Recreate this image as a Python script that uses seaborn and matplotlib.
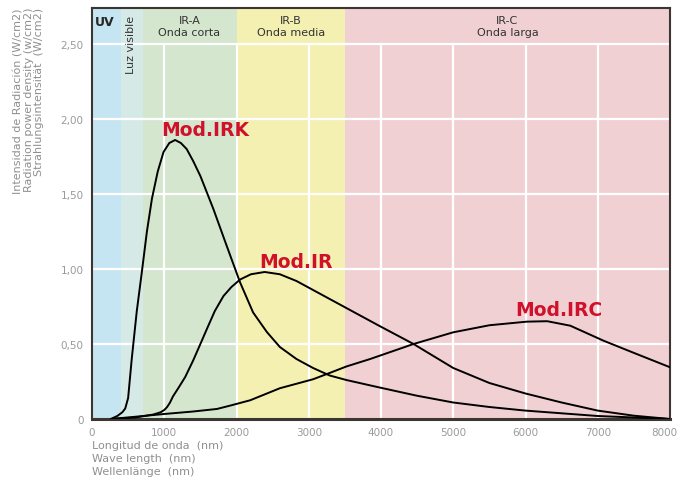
import numpy as np
import pandas as pd
import seaborn as sns
import matplotlib
matplotlib.use('Agg')
import matplotlib.pyplot as plt
from matplotlib.transforms import offset_copy

# Emission curves (wavelength nm, W/cm2)
irk_nm = [260, 350, 420, 460, 500, 550, 620, 690, 760, 830, 910, 990, 1070, 1150, 1230, 1310, 1400, 1500,
          1680, 1860, 2050, 2230, 2420, 2600, 2830, 3060, 3290, 3520, 3980, 4500, 5000, 5500, 6000, 7000, 8000]
irk_w = [0, 0.02, 0.045, 0.07, 0.14, 0.40, 0.72, 0.98, 1.25, 1.47, 1.65, 1.78, 1.84, 1.86, 1.84, 1.80, 1.72, 1.62,
         1.40, 1.16, 0.91, 0.71, 0.58, 0.48, 0.40, 0.34, 0.29, 0.26, 0.21, 0.155, 0.11, 0.08, 0.056, 0.02, 0]

ir_nm = [260, 600, 850, 950, 1000, 1040, 1080, 1120, 1200, 1290, 1400, 1500, 1590, 1700, 1820, 1930, 2050,
         2200, 2390, 2600, 2830, 3060, 3290, 3520, 3980, 4450, 5000, 5500, 6000, 6500, 7000, 7500, 8000]
ir_w = [0, 0.01, 0.03, 0.045, 0.06, 0.08, 0.11, 0.15, 0.21, 0.28, 0.39, 0.50, 0.60, 0.72, 0.82, 0.88, 0.93,
        0.965, 0.98, 0.965, 0.92, 0.86, 0.80, 0.74, 0.62, 0.50, 0.34, 0.24, 0.17, 0.11, 0.056, 0.022, 0]

irc_nm = [260, 600, 990, 1400, 1730, 1910, 2190, 2600, 3060, 3290, 3520, 3850, 4450, 5000, 5500,
          6020, 6300, 6620, 7080, 7540, 8000]
irc_w = [0, 0.015, 0.033, 0.05, 0.067, 0.089, 0.125, 0.205, 0.265, 0.307, 0.35, 0.40, 0.50, 0.578, 0.625,
         0.649, 0.652, 0.622, 0.522, 0.433, 0.345]

models = ['Mod.IRK', 'Mod.IR', 'Mod.IRC']

# Spectral bands
band_edges = [0, 400, 700, 2000, 3500, 8000]
band_colors = ['#c6e5f2', '#d5eae7', '#d4e6ce', '#f4f0b1', '#f1d0d3']

x_ticks = [0, 1000, 2000, 3000, 4000, 5000, 6000, 7000, 8000]
y_ticks = [0, 0.5, 1.0, 1.5, 2.0, 2.5]
y_tick_labels = ['0', '0,50', '1,00', '1,50', '2,00', '2,50']

df = pd.concat([
    pd.DataFrame({'nm': irk_nm, 'w': irk_w, 'model': models[0]}),
    pd.DataFrame({'nm': ir_nm, 'w': ir_w, 'model': models[1]}),
    pd.DataFrame({'nm': irc_nm, 'w': irc_w, 'model': models[2]}),
])

sns.set_style('white')
plt.rcParams['font.family'] = ['DejaVu Sans']

fig = plt.figure(figsize=(6.8, 4.81), dpi=100)
ax = fig.add_axes([92 / 680, 1 - 420 / 481, 578 / 680, 411 / 481])

for i in range(len(band_colors)):
    ax.axvspan(band_edges[i], band_edges[i + 1], color=band_colors[i], lw=0, zorder=0)

# white grid, verticals stop at the header band
ax.hlines(y_ticks[1:], 0, 8000, color='white', lw=1.6, zorder=1)
ax.vlines(x_ticks[1:-1], 0, 2.5, color='white', lw=1.6, zorder=1)

sns.lineplot(data=df, x='nm', y='w', hue='model', palette=['black'] * 3, estimator=None,
             legend=False, lw=1.4, ax=ax, zorder=3)

ax.set_xlim(0, 8000)
ax.set_ylim(0, 2.74)
ax.set_xticks(x_ticks)
ax.set_xticklabels([str(t) for t in x_ticks])
ax.set_yticks(y_ticks)
ax.set_yticklabels(y_tick_labels)
ax.tick_params(length=0, labelsize=7.5, labelcolor='#9a9a9a', pad=6)
ax.set_xlabel('')
ax.set_ylabel('')
# last x label sits just inside the figure edge
last = ax.get_xticklabels()[-1]
last.set_ha('right')
last.set_transform(offset_copy(last.get_transform(), fig=fig, x=7, units='dots'))
for s in ax.spines.values():
    s.set_color('#3b3631')
    s.set_linewidth(1.5)
ax.spines['bottom'].set_linewidth(2.2)

# model labels
red = '#d0112b'
ax.text(1564, 1.93, 'Mod.IRK', color=red, fontsize=13.5, fontweight='bold', ha='center', va='center')
ax.text(2824, 1.05, 'Mod.IR', color=red, fontsize=13.5, fontweight='bold', ha='center', va='center')
ax.text(6464, 0.727, 'Mod.IRC', color=red, fontsize=13.5, fontweight='bold', ha='center', va='center')

# band headers
ax.text(180, 2.65, 'UV', fontsize=9, fontweight='bold', ha='center', va='center')
ax.text(545, 2.50, 'Luz visible', fontsize=8, rotation=90, ha='center', va='center', color='#333333')
ax.text(1350, 2.62, 'IR-A\nOnda corta', fontsize=8, ha='center', va='center', color='#333333')
ax.text(2750, 2.62, 'IR-B\nOnda media', fontsize=8, ha='center', va='center', color='#333333')
ax.text(5750, 2.62, 'IR-C\nOnda larga', fontsize=8, ha='center', va='center', color='#333333')

gray = '#8f8f8f'
fig.text(29 / 680, 1 - 8 / 481,
         'Intensidad de Radiación (W/cm2)\nRadiation power density (w/cm2)\nStrahlungsintensität  (W/cm2)',
         rotation=90, ha='center', va='top', multialignment='right', fontsize=8, color=gray,
         linespacing=1.05)
fig.text(92 / 680, 1 - 441 / 481,
         'Longitud de onda  (nm)\nWave length  (nm)\nWellenlänge  (nm)',
         ha='left', va='top', fontsize=8, color=gray, linespacing=1.4)

fig.savefig('out.png', dpi=100)
